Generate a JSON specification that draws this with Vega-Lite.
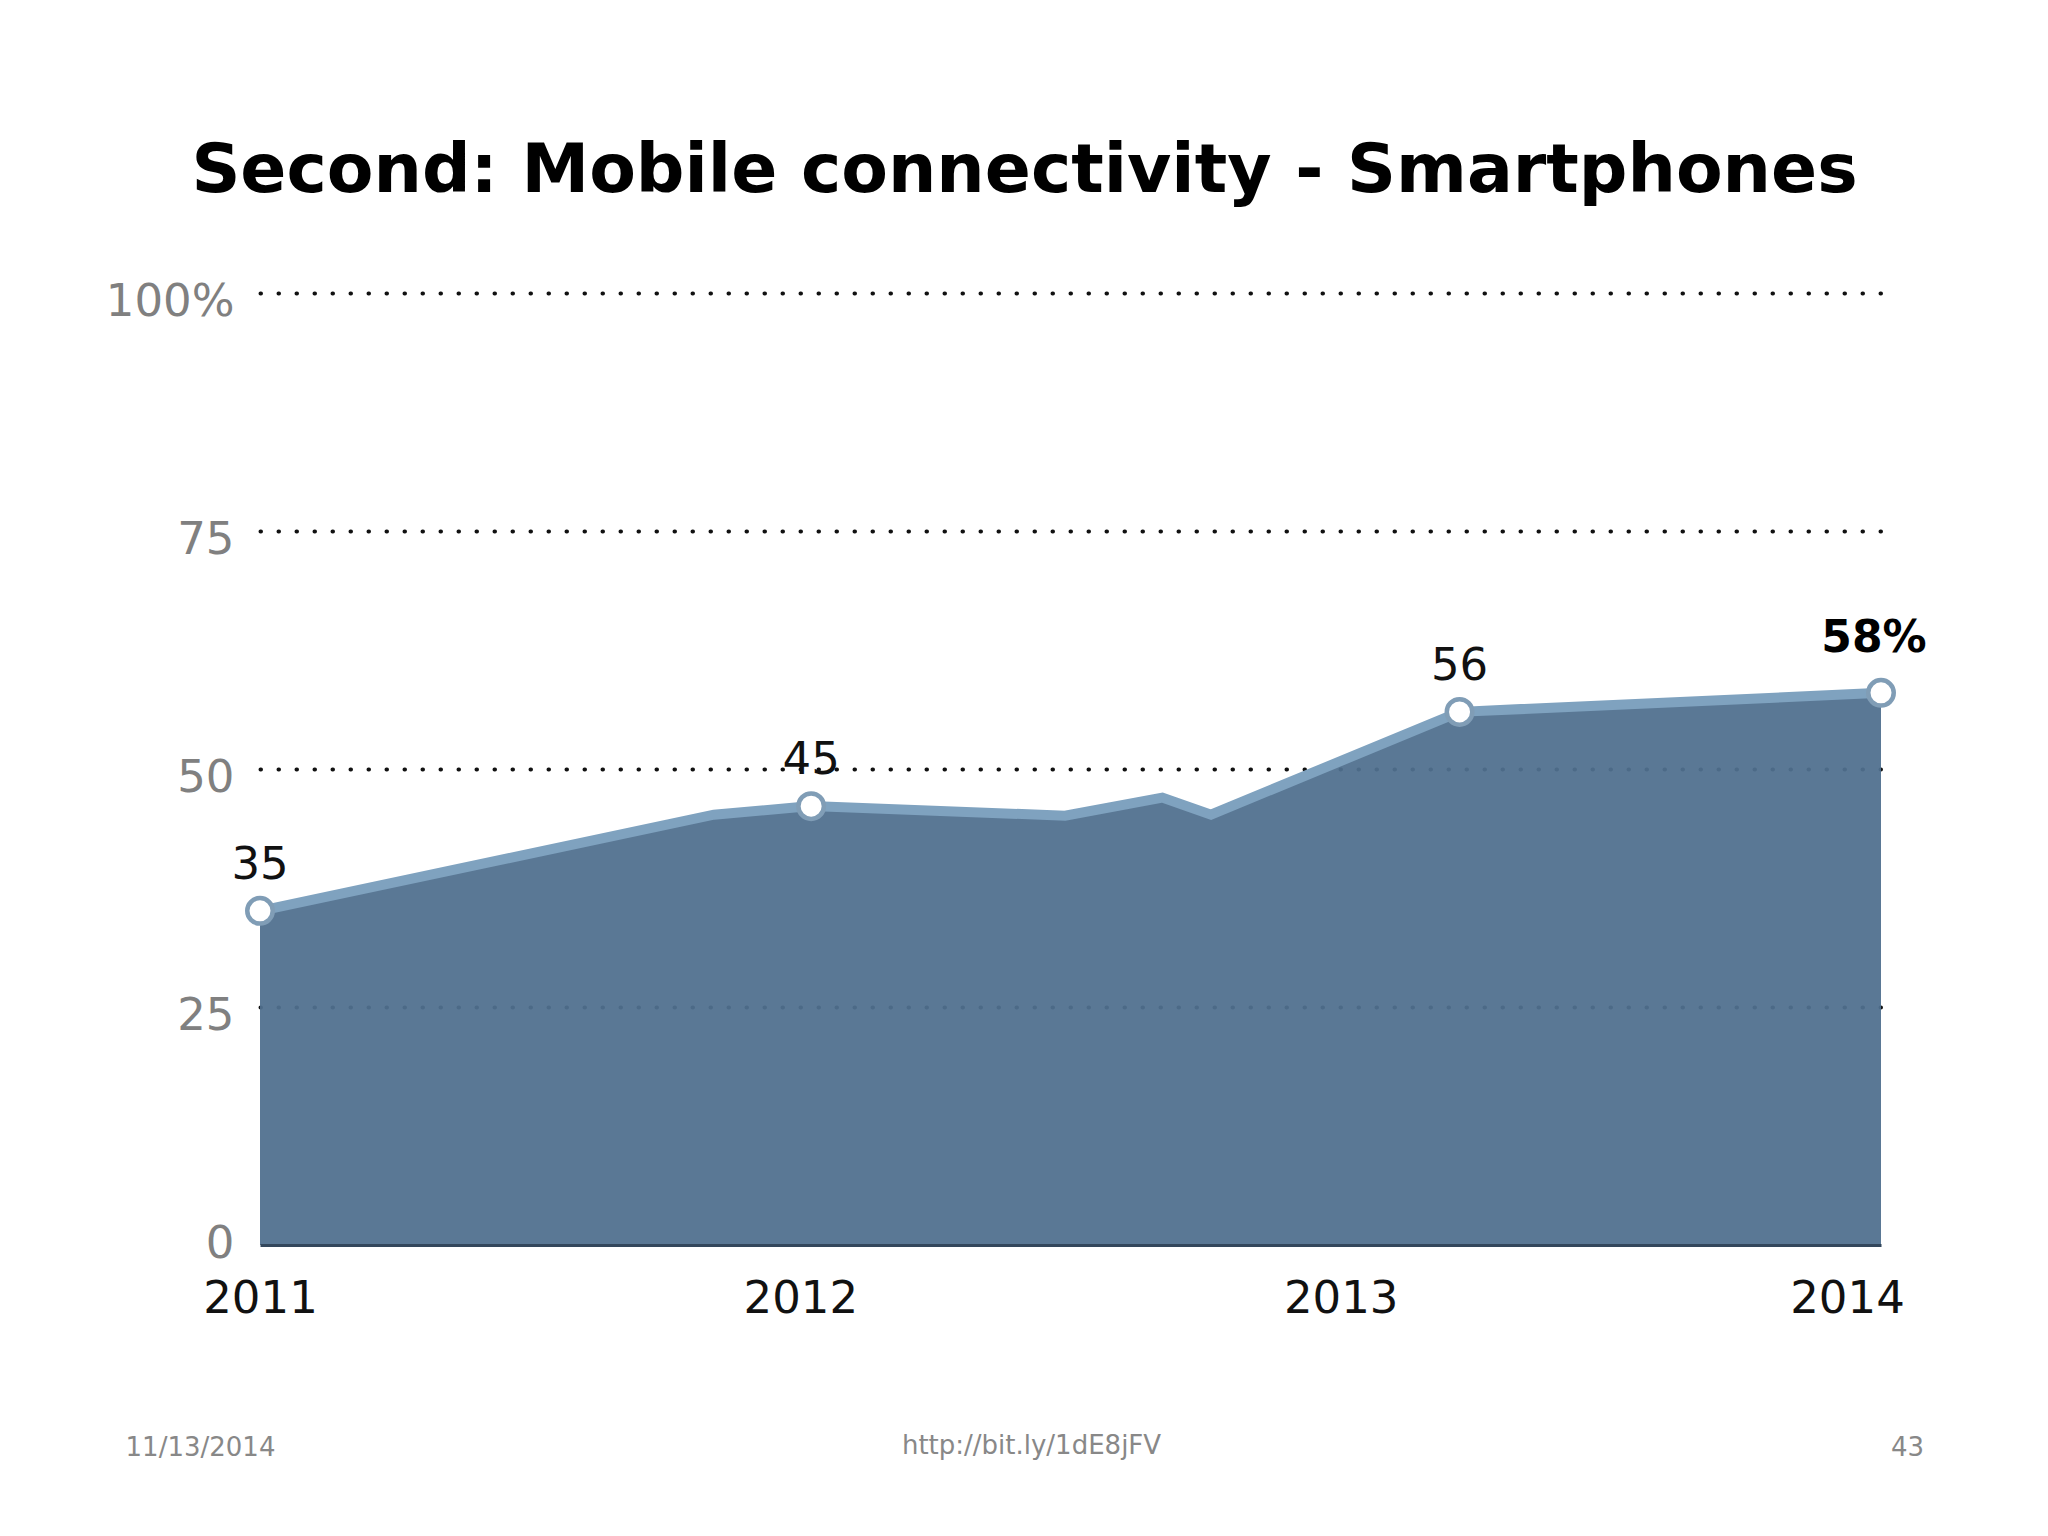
{
  "$schema": "https://vega.github.io/schema/vega-lite/v6.json",
  "width": 1621,
  "height": 952,
  "autosize": {"type": "none"},
  "padding": {"left": 260, "top": 293, "right": 167, "bottom": 291},
  "background": "white",
  "title": {
    "text": "Second: Mobile connectivity - Smartphones",
    "font": "DejaVu Sans",
    "fontWeight": "bold",
    "fontSize": 68,
    "color": "#000000",
    "anchor": "middle",
    "frame": "group",
    "dx": -46,
    "baseline": "alphabetic",
    "offset": 19
  },
  "data": {
    "values": [
      {"year": 2011.0, "pct": 35.1, "label": "35"},
      {"year": 2011.84, "pct": 45.2, "label": null},
      {"year": 2012.02, "pct": 46.1, "label": "45"},
      {"year": 2012.49, "pct": 45.1, "label": null},
      {"year": 2012.67, "pct": 47.0, "label": null},
      {"year": 2012.76, "pct": 45.2, "label": null},
      {"year": 2013.22, "pct": 56.0, "label": "56"},
      {"year": 2014.0, "pct": 58.0, "label": "58%"}
    ]
  },
  "encoding": {
    "x": {
      "field": "year",
      "type": "quantitative",
      "scale": {"domain": [2011, 2014], "nice": false, "zero": false},
      "axis": {
        "values": [2011, 2012, 2013, 2014],
        "format": "d",
        "labelFont": "DejaVu Sans",
        "labelFontSize": 45,
        "labelColor": "#111111",
        "labelBaseline": "alphabetic",
        "labelPadding": 67,
        "labelOffset": {"condition": {"test": "datum.value == 2014", "value": -34}, "value": 0},
        "labelFlush": false,
        "labelOverlap": false,
        "ticks": false,
        "grid": false,
        "domainColor": "#33475c",
        "domainWidth": 3,
        "zindex": 1,
        "title": "http://bit.ly/1dE8jFV",
        "titleFont": "DejaVu Sans",
        "titleFontSize": 26,
        "titleFontWeight": "normal",
        "titleColor": "#888888",
        "titleX": 771,
        "titleY": 208,
        "titleAlign": "center",
        "titleBaseline": "alphabetic"
      }
    }
  },
  "layer": [
    {
      "layer": [
        {
          "mark": {"type": "area", "fill": "#50708e", "opacity": 0.94},
          "encoding": {
            "y": {
              "field": "pct",
              "type": "quantitative",
              "scale": {"domain": [0, 100], "nice": false},
              "axis": {
                "values": [0, 25, 50, 75, 100],
                "labelExpr": "datum.value == 100 ? '100%' : datum.label",
                "labelFont": "DejaVu Sans",
                "labelFontSize": 45,
                "labelColor": "#808080",
                "labelPadding": 26,
                "labelOffset": {"condition": {"test": "datum.value == 0", "value": -2}, "value": 8},
                "labelBaseline": "middle",
                "ticks": false,
                "domain": false,
                "grid": true,
                "gridColor": "#111111",
                "gridOpacity": {"condition": {"test": "datum.value == 0", "value": 0}, "value": 1},
                "gridDash": [0.5, 17.5],
                "gridWidth": 4,
                "gridCap": "round",
                "title": "11/13/2014",
                "titleAngle": 0,
                "titleFont": "DejaVu Sans",
                "titleFontSize": 26,
                "titleFontWeight": "normal",
                "titleColor": "#888888",
                "titleX": -60,
                "titleY": 1162,
                "titleAlign": "center",
                "titleBaseline": "alphabetic"
              }
            }
          }
        },
        {
          "mark": {"type": "line", "color": "#7fa2bf", "strokeWidth": 10, "strokeJoin": "miter"},
          "encoding": {"y": {"field": "pct", "type": "quantitative"}}
        },
        {
          "transform": [{"filter": "datum.label != null"}],
          "mark": {"type": "point", "shape": "circle", "filled": true, "fill": "white", "stroke": "#809db6", "strokeWidth": 4.5, "size": 650, "opacity": 1},
          "encoding": {"y": {"field": "pct", "type": "quantitative"}}
        },
        {
          "transform": [{"filter": "datum.label != null && datum.label != '58%'"}],
          "mark": {"type": "text", "font": "DejaVu Sans", "fontSize": 45, "dy": -46, "baseline": "middle", "color": "#111111"},
          "encoding": {
            "y": {"field": "pct", "type": "quantitative"},
            "text": {"field": "label", "type": "nominal"}
          }
        },
        {
          "transform": [{"filter": "datum.label == '58%'"}],
          "mark": {"type": "text", "font": "DejaVu Sans", "fontSize": 44, "fontWeight": "bold", "dy": -54, "dx": -7, "baseline": "middle", "color": "#000000"},
          "encoding": {
            "y": {"field": "pct", "type": "quantitative"},
            "text": {"field": "label", "type": "nominal"}
          }
        }
      ]
    },
    {
      "mark": {"type": "point", "opacity": 0},
      "encoding": {
        "y": {
          "field": "pct",
          "type": "quantitative",
          "scale": {"domain": [0, 100], "nice": false},
          "axis": {
            "orient": "right",
            "labels": false,
            "ticks": false,
            "domain": false,
            "grid": false,
            "title": "43",
            "titleAngle": 0,
            "titleFont": "DejaVu Sans",
            "titleFontSize": 26,
            "titleFontWeight": "normal",
            "titleColor": "#888888",
            "titleX": 26,
            "titleY": 1162,
            "titleAlign": "center",
            "titleBaseline": "alphabetic"
          }
        }
      }
    }
  ],
  "resolve": {"scale": {"y": "independent"}},
  "config": {"view": {"stroke": null}}
}
